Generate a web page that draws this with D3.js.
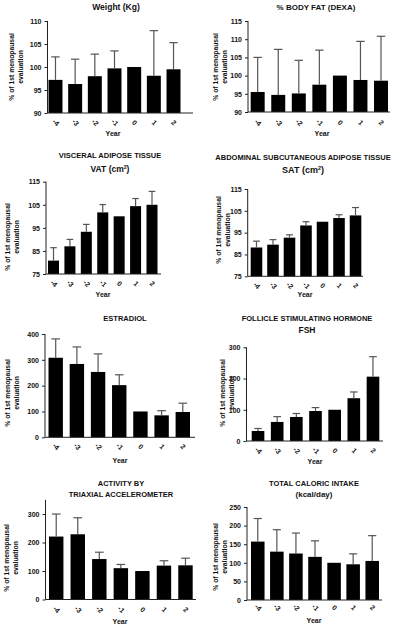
<!DOCTYPE html>
<html><head><meta charset="utf-8">
<script src="https://cdn.jsdelivr.net/npm/d3@7"></script>
<style>body{margin:0;background:#fff}svg{display:block}text{font-family:"Liberation Sans",Arial,sans-serif;font-weight:bold;fill:#111}</style>
</head><body>
<script>
// ---- data ----
const years = ["-4","-3","-2","-1","0","1","2"];
const weightMean = [97.2, 96.3, 98.0, 99.7, 100, 98.1, 99.5];
const weightErr  = [102.2, 101.7, 102.8, 103.5, 100, 107.9, 105.3];
const bodyFatMean = [95.5, 94.7, 95.1, 97.5, 100, 98.8, 98.6];
const bodyFatErr  = [105.0, 107.2, 104.2, 107.0, 100, 109.4, 110.8];
const vatMean = [80.8, 87.0, 93.3, 101.7, 100, 104.4, 105.0];
const vatErr  = [86.4, 90.0, 96.5, 105.1, 100, 107.7, 110.8];
const satMean = [88.2, 89.5, 92.7, 98.3, 100, 101.7, 102.9];
const satErr  = [91.1, 91.8, 94.0, 100.0, 100, 103.2, 106.5];
const estradiolMean = [308, 284, 253, 202, 100, 85, 98];
const estradiolErr  = [381, 350, 323, 242, 100, 103, 132];
const fshMean = [32, 61, 77, 96, 100, 137, 206];
const fshErr  = [40, 78, 88, 107, 100, 157, 270];
const activityMean = [221, 229, 142, 110, 100, 119, 120];
const activityErr  = [300, 287, 166, 123, 100, 136, 145];
const caloricMean = [157, 130, 125, 116, 100, 96, 105];
const caloricErr  = [219, 189, 180, 159, 100, 124, 173];

const weightTicks = [90, 95, 100, 105, 110];
const bodyFatTicks = [90, 95, 100, 105, 110, 115];
const adiposeTicks = [75, 85, 95, 105, 115];
const estradiolTicks = [0, 100, 200, 300, 400];
const fshTicks = [0, 100, 200, 300];
const activityTicks = [0, 100, 200, 300];
const caloricTicks = [0, 50, 100, 150, 200, 250];

const yLabel = ["% of 1st menopausal", "evaluation"];
const xLabel = "Year";

// ---- layout ----
const panels = [
 {mean: weightMean, err: weightErr, ticks: weightTicks, domain:[90,110],
  title:[["Weight (Kg)",8.5]], tx:116, ty:[10],
  ax:47.5, yTop:21, yBot:113, bars:[48.5,180.5], pad:0.29, axEnd:193,
  labY:123, yearY:136, yearX:113, ylx:[11,20], yly:67},
 {mean: bodyFatMean, err: bodyFatErr, ticks: bodyFatTicks, domain:[90,115],
  title:[["%  BODY FAT  (DEXA)",8]], tx:316, ty:[10],
  ax:248, yTop:21, yBot:112, bars:[250.7,388], pad:0.32, axEnd:390,
  labY:123, yearY:136, yearX:322, ylx:[215,224], yly:67},
 {mean: vatMean, err: vatErr, ticks: adiposeTicks, domain:[75,115],
  title:[["VISCERAL ADIPOSE TISSUE",7.5],["VAT (cm²)",8.5]], tx:110, ty:[158,172],
  ax:46, yTop:181.7, yBot:274, bars:[48,157.5], pad:0.33, axEnd:161,
  labY:284, yearY:297, yearX:103, ylx:[7,16], yly:237},
 {mean: satMean, err: satErr, ticks: adiposeTicks, domain:[75,115],
  title:[["ABDOMINAL SUBCUTANEOUS ADIPOSE TISSUE",7.5],["SAT (cm²)",9]], tx:303, ty:[160,173],
  ax:247.7, yTop:189, yBot:276.3, bars:[250.7,361.3], pad:0.3, axEnd:363,
  labY:286, yearY:297, yearX:305, ylx:[218,227], yly:230},
 {mean: estradiolMean, err: estradiolErr, ticks: estradiolTicks, domain:[0,400],
  title:[["ESTRADIOL",7.5]], tx:125, ty:[321],
  ax:45, yTop:334, yBot:437.3, bars:[48.5,190], pad:0.32, axEnd:195,
  labY:447, yearY:463, yearX:120, ylx:[7,16], yly:393},
 {mean: fshMean, err: fshErr, ticks: fshTicks, domain:[0,300],
  title:[["FOLLICLE STIMULATING HORMONE",7.5],["FSH",8.5]], tx:307, ty:[321,333],
  ax:246.5, yTop:347.3, yBot:441, bars:[251.7,379.3], pad:0.34, axEnd:383,
  labY:451, yearY:464, yearX:315, ylx:[222,231], yly:393},
 {mean: activityMean, err: activityErr, ticks: activityTicks, domain:[0,350],
  title:[["ACTIVITY BY",7.5],["TRIAXIAL ACCELEROMETER",7.5]], tx:121, ty:[486,497],
  ax:45.5, yTop:499.8, yBot:599.5, bars:[49,192.7], pad:0.33, axEnd:196,
  labY:610, yearY:624, yearX:120, ylx:[6,15], yly:558},
 {mean: caloricMean, err: caloricErr, ticks: caloricTicks, domain:[0,250],
  title:[["TOTAL CALORIC INTAKE",7.5],["(kcal/day)",8]], tx:314, ty:[486,497],
  ax:247, yTop:507, yBot:600, bars:[251,379], pad:0.29, axEnd:382,
  labY:608, yearY:623, yearX:314, ylx:[215,224], yly:557}
];

const svg = d3.select("body").append("svg").attr("width",400).attr("height",626);

panels.forEach(p => {
  const g = svg.append("g");
  const y = d3.scaleLinear().domain(p.domain).range([p.yBot, p.yTop]);
  const x = d3.scaleBand().domain(years).range(p.bars).paddingInner(p.pad).paddingOuter(0);

  // titles
  p.title.forEach((t,i) => {
    const tt = g.append("text").attr("x",p.tx).attr("y",p.ty[i]).attr("text-anchor","middle")
      .attr("font-size",t[1]);
    if (t[0].includes("²")) {
      const parts = t[0].split("²");
      tt.append("tspan").text(parts[0]);
      tt.append("tspan").attr("font-size",t[1]*0.6).attr("dy",-3.5).text("2");
      tt.append("tspan").attr("dy",3.5).text(parts[1]);
    } else tt.text(t[0]);
  });

  // bars
  g.selectAll("rect.bar").data(years).enter().append("rect")
    .attr("x", d => x(d)).attr("width", x.bandwidth())
    .attr("y", (d,i) => y(p.mean[i])).attr("height", (d,i) => p.yBot - y(p.mean[i]))
    .attr("fill","#000");

  // error bars (upper only)
  const cap = x.bandwidth()*0.6;
  years.forEach((d,i) => {
    if (p.err[i] <= p.mean[i]) return;
    const cx = x(d) + x.bandwidth()/2;
    g.append("line").attr("x1",cx).attr("x2",cx).attr("y1",y(p.mean[i])).attr("y2",y(p.err[i]))
      .attr("stroke","#555").attr("stroke-width",1.2);
    g.append("line").attr("x1",cx-cap/2).attr("x2",cx+cap/2).attr("y1",y(p.err[i])).attr("y2",y(p.err[i]))
      .attr("stroke","#555").attr("stroke-width",1.2);
  });

  // y axis
  const ya = d3.axisLeft(y).tickValues(p.ticks).tickSize(3).tickPadding(3).tickFormat(d3.format("d"));
  const yg = g.append("g").attr("transform",`translate(${p.ax},0)`).call(ya);
  yg.select(".domain").remove();
  yg.append("line").attr("x1",0).attr("x2",0).attr("y1",p.yTop).attr("y2",p.yBot).attr("stroke","#222");
  yg.selectAll(".tick line").attr("stroke","#222");
  yg.selectAll("text").attr("font-size",7).attr("font-family","Liberation Sans, Arial").attr("font-weight","bold").attr("fill","#111");

  // x axis
  g.append("line").attr("x1",p.ax).attr("x2",p.axEnd).attr("y1",p.yBot).attr("y2",p.yBot).attr("stroke","#222");
  const xa = d3.axisBottom(x).tickSize(0).tickPadding(0);
  const xg = g.append("g").attr("transform",`translate(0,${p.labY})`).call(xa);
  xg.select(".domain").remove();
  xg.selectAll("text").attr("font-size",7).attr("dy",0).attr("y",0)
    .attr("text-anchor","middle").attr("dominant-baseline","middle")
    .attr("transform","rotate(45)").attr("font-weight","bold").attr("fill","#111");

  g.append("text").attr("x",p.yearX).attr("y",p.yearY).attr("text-anchor","middle")
    .attr("font-size",7).text(xLabel);

  // y label
  yLabel.forEach((t,i) => {
    g.append("text").attr("transform",`translate(${p.ylx[i]+3},${p.yly}) rotate(-90)`)
      .attr("text-anchor","middle").attr("font-size",6.8).text(t);
  });
});
</script>
</body></html>
